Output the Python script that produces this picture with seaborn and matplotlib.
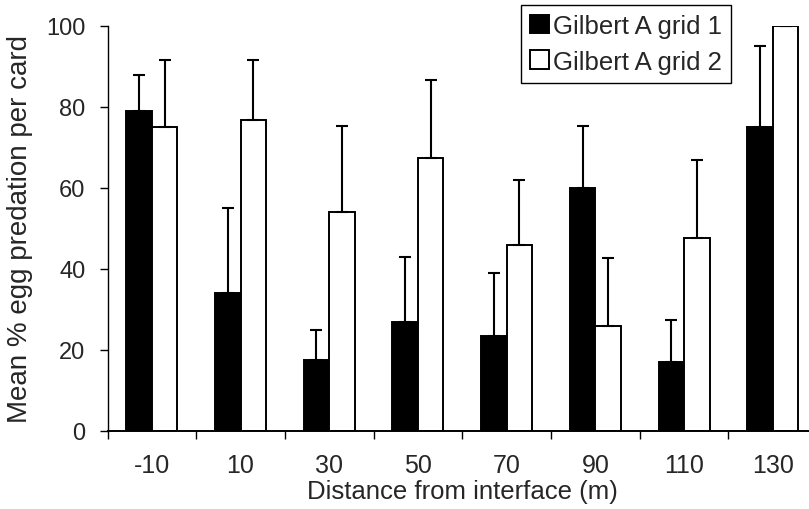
import numpy as np
import pandas as pd
import matplotlib
matplotlib.use('Agg')
import matplotlib.pyplot as plt
import seaborn as sns

## ============================== ##

distances = ['-10', '10', '30', '50', '70', '90', '110', '130']
grids = ['Gilbert A grid 1', 'Gilbert A grid 2']

mean_grid1 = [79, 34, 17.5, 27, 23.5, 60, 17, 75]
upper_grid1 = [88, 55, 25, 43, 39, 75.3, 27.3, 95]
mean_grid2 = [75, 76.8, 54, 67.3, 46, 26, 47.6, 100]
upper_grid2 = [91.5, 91.5, 75.2, 86.6, 62, 42.6, 66.8, 100]

## ============================== ##

df = pd.concat([
	pd.DataFrame({'distance': distances, 'mean': mean_grid1, 'upper': upper_grid1, 'grid': grids[0]}),
	pd.DataFrame({'distance': distances, 'mean': mean_grid2, 'upper': upper_grid2, 'grid': grids[1]}),
], ignore_index=True)

sns.set_style('ticks')
plt.rcParams['font.family'] = ['Liberation Sans', 'DejaVu Sans']

fig = plt.figure(figsize=(8.09, 5.10), dpi=100)
ax = fig.add_axes([107.5 / 809., 78 / 510., 709.6 / 809., 405 / 510.])

sns.barplot(ax=ax, data=df, x='distance', y='mean', hue='grid', order=distances,
		hue_order=grids, palette=['black', 'white'], saturation=1, width=0.575,
		edgecolor='black', linewidth=1.4, errorbar=None, legend=True)

# upper error bars at the bar centres
for k, g in enumerate(grids):
	bars = ax.containers[k]
	dfs = df.loc[df['grid'] == g, :]
	x = [b.get_x() + b.get_width() / 2. for b in bars]
	y = dfs['mean'].values
	up = dfs['upper'].values - y
	ax.errorbar(x, y, yerr=[np.zeros_like(up), up], fmt='none', ecolor='black',
			elinewidth=1.5, capsize=4, capthick=1.5, zorder=1.5)

ax.set_xlim(-0.5, 7.5)
ax.set_ylim(0, 100)
ax.set_yticks(np.arange(0, 101, 20))
ax.set_xticks(np.arange(-0.5, 8, 1), minor=True)
ax.tick_params(axis='x', which='major', length=0, pad=16, labelsize=18)
ax.tick_params(axis='x', which='minor', length=6, width=1, color='black')
ax.tick_params(axis='y', length=6, width=1, color='black', pad=10, labelsize=17)
ax.set_xlabel('Distance from interface (m)', labelpad=1, fontsize=18.5)
ax.set_ylabel('Mean % egg predation per card', labelpad=9, fontsize=20)
ax.spines['left'].set_color('black')
ax.spines['left'].set_linewidth(1)
ax.spines['bottom'].set_color('black')
ax.spines['bottom'].set_linewidth(1.4)
sns.despine(ax=ax, right=True, top=True)

ax.legend(loc='upper left', bbox_to_anchor=(521 / 809., 1 - 6 / 510.), bbox_transform=fig.transFigure,
		frameon=True, fancybox=False, edgecolor='black', framealpha=1,
		handlelength=0.75, handleheight=0.75, handletextpad=0.15, borderpad=0.35, borderaxespad=0,
		labelspacing=0.45, fontsize=18.5)
ax.get_legend().get_frame().set_linewidth(1)

fig.savefig('out.png', dpi=100)
